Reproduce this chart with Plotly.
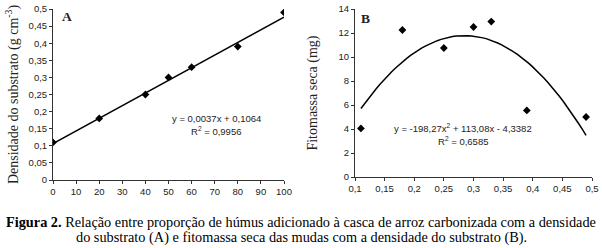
import numpy as np
import plotly.graph_objects as go

# Panel A data
humus_pct = [0, 20, 40, 50, 60, 80, 100]
densidade = [0.11, 0.18, 0.25, 0.30, 0.33, 0.39, 0.49]
lin_coef = [0.0037, 0.1064]  # slope, intercept (from chart equation)

# Panel B data
dens_b = [0.11, 0.18, 0.25, 0.30, 0.33, 0.39, 0.49]
fitomassa = [4.05, 12.25, 10.75, 12.5, 12.95, 5.55, 5.0]
quad_coef = [-198.27, 113.08, -4.3382]  # from chart equation

xa_fit = np.array([0, 100])
ya_fit = np.polyval(lin_coef, xa_fit)
xb_fit = np.linspace(0.11, 0.49, 60)
yb_fit = np.polyval(quad_coef, xb_fit)

W, H = 602, 248
def px(x):
    return x / W
def py(y):
    return 1 - y / H

fig = go.Figure()
fig.add_trace(go.Scatter(x=xa_fit, y=ya_fit, mode="lines", line=dict(color="black", width=1.5),
                         xaxis="x", yaxis="y", showlegend=False, hoverinfo="skip"))
fig.add_trace(go.Scatter(x=humus_pct, y=densidade, mode="markers",
                         marker=dict(symbol="diamond", size=6, color="black"),
                         xaxis="x", yaxis="y", showlegend=False))
fig.add_trace(go.Scatter(x=xb_fit, y=yb_fit, mode="lines", line=dict(color="black", width=1.5),
                         xaxis="x2", yaxis="y2", showlegend=False, hoverinfo="skip"))
fig.add_trace(go.Scatter(x=dens_b, y=fitomassa, mode="markers",
                         marker=dict(symbol="diamond", size=6, color="black"),
                         xaxis="x2", yaxis="y2", showlegend=False))

tickfont = dict(family="Liberation Sans, Arial", size=9.5, color="#222")
titlefont = dict(family="Liberation Serif, Times New Roman", size=14, color="#222")
axis_common = dict(showgrid=False, zeroline=False, showline=True, linecolor="#333", linewidth=1,
                   ticks="outside", ticklen=3, tickcolor="#333", tickfont=tickfont, automargin=False)

fig.update_layout(
    width=W, height=H, margin=dict(l=0, r=0, t=0, b=0),
    paper_bgcolor="white", plot_bgcolor="white", separators=",.",
    xaxis=dict(domain=[px(53), px(284)], range=[0, 100], tick0=0, dtick=10, anchor="y", **axis_common),
    yaxis=dict(domain=[py(180), py(9)], range=[0, 0.5], tick0=0, dtick=0.05, anchor="x",
               title=dict(text="Densidade do substrato (g cm<sup>-3</sup>)", font=titlefont, standoff=6),
               **axis_common),
    xaxis2=dict(domain=[px(355), px(592)], range=[0.1, 0.5], tick0=0.1, dtick=0.05, anchor="y2", **axis_common),
    yaxis2=dict(domain=[py(177), py(9)], range=[0, 14], tick0=0, dtick=2, anchor="x2",
                title=dict(text="Fitomassa seca (mg)", font=titlefont, standoff=17),
                **axis_common),
    showlegend=False,
)

annfont = dict(family="Liberation Sans, Arial", size=9.5, color="#222")
serif = "Liberation Serif, Times New Roman"
anns = [
    dict(x=3, y=0.477, xref="x", yref="y", text="<b>A</b>", showarrow=False, xanchor="left",
         yanchor="middle", font=dict(family=serif, size=13.5, color="#222")),
    dict(x=0.106, y=13.2, xref="x2", yref="y2", text="<b>B</b>", showarrow=False, xanchor="left",
         yanchor="middle", font=dict(family=serif, size=13.5, color="#222")),
    dict(x=px(216), y=py(118), xref="paper", yref="paper", text="y = 0,0037x + 0,1064",
         showarrow=False, xanchor="center", yanchor="middle", font=annfont),
    dict(x=px(216), y=py(131), xref="paper", yref="paper", text="R<sup>2</sup> = 0,9956",
         showarrow=False, xanchor="center", yanchor="middle", font=annfont),
    dict(x=px(463), y=py(128), xref="paper", yref="paper", text="y = -198,27x<sup>2</sup> + 113,08x - 4,3382",
         showarrow=False, xanchor="center", yanchor="middle", font=annfont),
    dict(x=px(463), y=py(141), xref="paper", yref="paper", text="R<sup>2</sup> = 0,6585",
         showarrow=False, xanchor="center", yanchor="middle", font=annfont),
    dict(x=0.5, y=py(222), xref="paper", yref="paper",
         text="<b>Figura 2.</b> Relação entre proporção de húmus adicionado à casca de arroz carbonizada com a densidade",
         showarrow=False, xanchor="center", yanchor="middle", font=dict(family=serif, size=14.3, color="black")),
    dict(x=0.5, y=py(237), xref="paper", yref="paper",
         text="do substrato (A) e fitomassa seca das mudas com a densidade do substrato (B).",
         showarrow=False, xanchor="center", yanchor="middle", font=dict(family=serif, size=14.3, color="black")),
]
fig.update_layout(annotations=anns)
fig.write_html("out.html", config={"displayModeBar": False},
               post_script="document.body.style.margin='0';document.body.style.overflow='hidden';")
